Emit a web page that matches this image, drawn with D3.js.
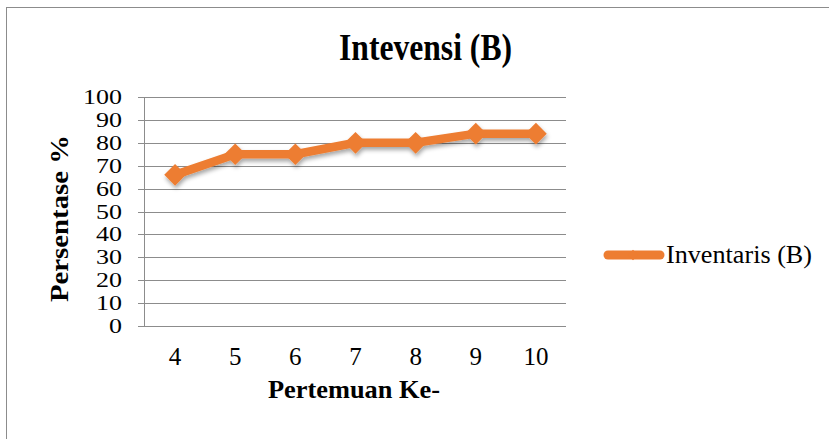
<!DOCTYPE html>
<html>
<head>
<meta charset="utf-8">
<script src="https://cdn.jsdelivr.net/npm/d3@7"></script>
<style>
  body { margin: 0; background: #fff; }
  svg text { font-family: "Liberation Serif", "Times New Roman", serif; fill: #000; }
</style>
</head>
<body>
<div id="chart"></div>
<script>
const meetings = ['4', '5', '6', '7', '8', '9', '10'];
const inventaris = [66, 75, 75, 80, 80, 84, 84];
const yTicks = [0, 10, 20, 30, 40, 50, 60, 70, 80, 90, 100];
const seriesName = 'Inventaris (B)';

const w = 829, h = 439;
const margin = {top: 97, right: 263, bottom: 113, left: 145};
const orange = '#ED7D31';

const svg = d3.select('#chart')
              .append('svg')
              .attr('width', w)
              .attr('height', h);

// drop shadow like the office chart
const defs = svg.append('defs');
const filt = defs.append('filter').attr('id', 'shadow')
                 .attr('x', '-20%').attr('y', '-20%').attr('width', '140%').attr('height', '160%');
filt.append('feDropShadow')
    .attr('dx', 1).attr('dy', 3).attr('stdDeviation', 2)
    .attr('flood-color', '#000').attr('flood-opacity', 0.35);

// outer border
svg.append('rect')
   .attr('x', 6.5).attr('y', 7.5)
   .attr('width', w).attr('height', h)
   .attr('fill', 'none')
   .attr('stroke', '#8c8c8c');

const x = d3.scaleBand()
            .domain(meetings)
            .range([margin.left, w - margin.right]);

const y = d3.scaleLinear()
            .domain([0, 100])
            .range([h - margin.bottom, margin.top]);

// gridlines
svg.append('g')
   .selectAll('line')
   .data(yTicks)
   .enter()
   .append('line')
   .attr('x1', margin.left - 7)
   .attr('x2', w - margin.right)
   .attr('y1', d => Math.round(y(d)) + 0.5)
   .attr('y2', d => Math.round(y(d)) + 0.5)
   .attr('stroke', '#8c8c8c')
   .attr('stroke-width', 1);

// y axis line
svg.append('line')
   .attr('x1', margin.left - 0.5).attr('x2', margin.left - 0.5)
   .attr('y1', y(100)).attr('y2', y(0) + 1)
   .attr('stroke', '#8c8c8c');

// y tick labels (kept a bit smaller so the labels don't collide)
svg.append('g')
   .selectAll('text')
   .data(yTicks)
   .enter()
   .append('text')
   .attr('x', margin.left - 23)
   .attr('y', d => y(d) + 7)
   .attr('text-anchor', 'end')
   .attr('font-size', '20px')
   .attr('textLength', d => String(d).length * 13)
   .attr('lengthAdjust', 'spacingAndGlyphs')
   .text(d => d);

// x tick labels
svg.append('g')
   .selectAll('text')
   .data(meetings)
   .enter()
   .append('text')
   .attr('x', d => x(d) + x.bandwidth() / 2)
   .attr('y', 365)
   .attr('text-anchor', 'middle')
   .attr('font-size', '25px')
   .text(d => d);

// title
svg.append('text')
   .attr('x', 339)
   .attr('y', 60)
   .attr('font-size', '37px')
   .attr('font-weight', 'bold')
   .attr('textLength', 173)
   .attr('lengthAdjust', 'spacingAndGlyphs')
   .text('Intevensi (B)');

// axis titles
svg.append('text')
   .attr('x', 268)
   .attr('y', 398)
   .attr('font-size', '25px')
   .attr('font-weight', 'bold')
   .attr('textLength', 172)
   .attr('lengthAdjust', 'spacingAndGlyphs')
   .text('Pertemuan Ke-');

svg.append('text')
   .attr('transform', 'translate(68,302) rotate(-90)')
   .attr('font-size', '26px')
   .attr('font-weight', 'bold')
   .attr('textLength', 167)
   .attr('lengthAdjust', 'spacingAndGlyphs')
   .text('Persentase %');

// series
const pts = meetings.map((m, i) => ({m: m, v: inventaris[i]}));

const line = d3.line()
               .x(d => x(d.m) + x.bandwidth() / 2)
               .y(d => y(d.v));

const series = svg.append('g').attr('filter', 'url(#shadow)');

series.append('path')
      .datum(pts)
      .attr('d', line)
      .attr('fill', 'none')
      .attr('stroke', orange)
      .attr('stroke-width', 8.5)
      .attr('stroke-linejoin', 'round')
      .attr('stroke-linecap', 'round');

series.selectAll('path.marker')
      .data(pts)
      .enter()
      .append('path')
      .attr('class', 'marker')
      .attr('d', d3.symbol().type(d3.symbolDiamond2).size(300))
      .attr('transform', d => 'translate(' + (x(d.m) + x.bandwidth() / 2) + ',' + y(d.v) + ')')
      .attr('fill', orange);

// legend
const legend = svg.append('g');
legend.append('line')
      .attr('x1', 608).attr('x2', 660)
      .attr('y1', 255).attr('y2', 255)
      .attr('stroke', orange)
      .attr('stroke-width', 9)
      .attr('stroke-linecap', 'round');
legend.append('path')
      .attr('d', d3.symbol().type(d3.symbolDiamond2).size(70))
      .attr('transform', 'translate(633,255)')
      .attr('fill', orange);
legend.append('text')
      .attr('x', 666)
      .attr('y', 263)
      .attr('font-size', '25px')
      .attr('textLength', 146)
      .attr('lengthAdjust', 'spacingAndGlyphs')
      .text(seriesName);
</script>
</body>
</html>
